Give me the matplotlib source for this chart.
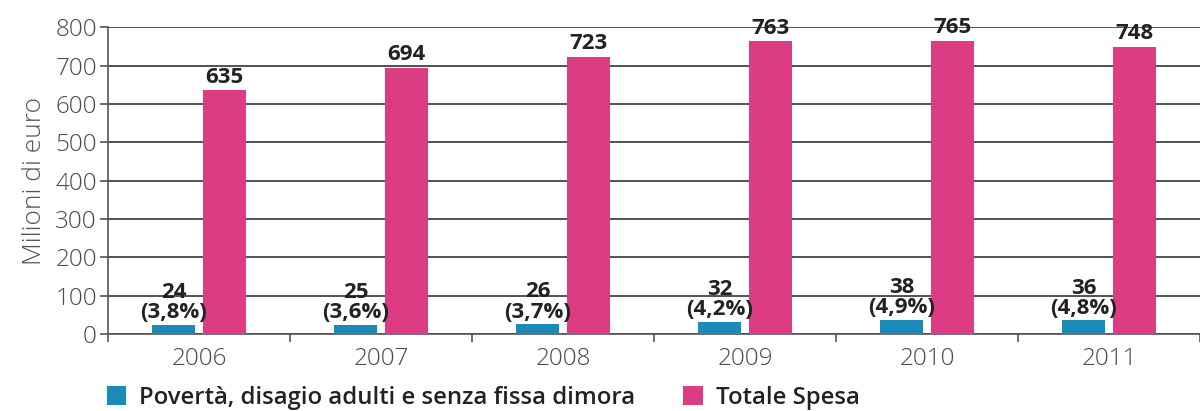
import numpy as np
import matplotlib.pyplot as plt

years = ["2006", "2007", "2008", "2009", "2010", "2011"]
poverta = [24, 25, 26, 32, 38, 36]
poverta_pct = ["3,8%", "3,6%", "3,7%", "4,2%", "4,9%", "4,8%"]
totale = [635, 694, 723, 763, 765, 748]

BLUE = "#1a8bb9"
PINK = "#db3c84"
plt.rcParams["font.family"] = ["Open Sans", "DejaVu Sans"]

fig = plt.figure(figsize=(12, 4.11), dpi=100)
ax = fig.add_axes([0.09, 0.187, 0.91, 0.747])

x = np.arange(len(years))
w = 0.24
off = 0.14
b1 = ax.bar(x - off, poverta, w, color=BLUE, zorder=3)
b2 = ax.bar(x + off, totale, w, color=PINK, zorder=3)

for rect, v, p in zip(b1, poverta, poverta_pct):
    ax.text(rect.get_x() + rect.get_width() / 2, v + 4, f"{v}\n({p})",
            ha="center", va="bottom", fontsize=16, fontweight="bold",
            color="#222222", linespacing=0.95, zorder=4)
for rect, v in zip(b2, totale):
    ax.text(rect.get_x() + rect.get_width() / 2, v + 7, f"{v}",
            ha="center", va="bottom", fontsize=16, fontweight="bold",
            color="#222222", zorder=4)

ax.set_ylim(0, 800)
ax.set_yticks(range(0, 801, 100))
ax.set_xlim(-0.5, 5.5 - 18 / 185)
ax.set_xticks(x)
ax.set_xticklabels(years, fontweight="light")
ax.set_yticklabels([str(v) for v in range(0, 801, 100)], fontweight="light")
ax.set_xticks(np.arange(-0.5, 5.6, 1), minor=True)
ax.tick_params(axis="x", which="major", length=0, labelsize=17.5,
               labelcolor="#4a4a4a", pad=9)
ax.tick_params(axis="x", which="minor", length=6, width=1.2, color="#555555")
ax.tick_params(axis="y", length=6, width=1.2, color="#555555",
               labelsize=17.5, labelcolor="#4a4a4a", pad=2)
ax.yaxis.grid(True, color="#333333", linewidth=1.2, zorder=0)
ax.set_axisbelow(True)
for s in ["top", "right"]:
    ax.spines[s].set_visible(False)
for s in ["left", "bottom"]:
    ax.spines[s].set_color("#555555")
    ax.spines[s].set_linewidth(1.2)
ax.set_ylabel("Milioni di euro", fontsize=19, color="#555555", labelpad=6,
              fontweight="light")

leg = fig.legend([b1, b2], ["Povertà, disagio adulti e senza fissa dimora", "Totale Spesa"],
                 loc="lower left", bbox_to_anchor=(0.071, -0.05), ncol=2,
                 frameon=False, handlelength=0.82, handleheight=0.82,
                 columnspacing=2.0, handletextpad=0.55,
                 prop={"size": 17.2, "weight": "semibold"})
for t in leg.get_texts():
    t.set_color("#222222")

fig.savefig("out.png", dpi=100)
